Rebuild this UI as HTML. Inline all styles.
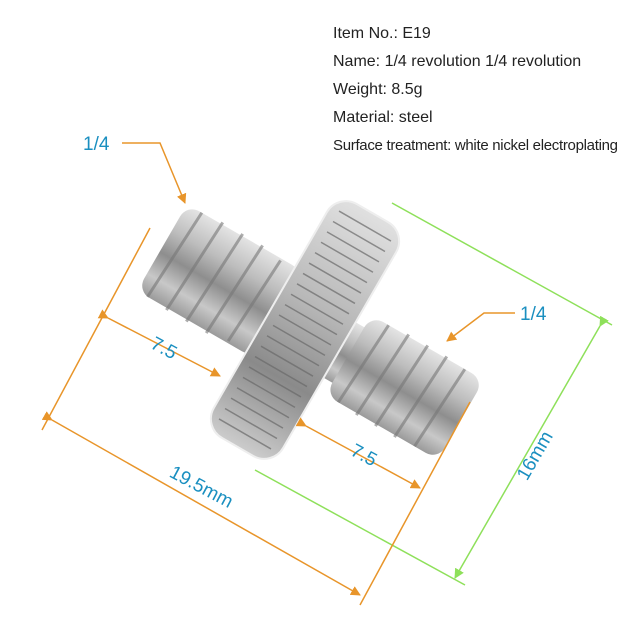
<!DOCTYPE html>
<html><head><style>
html,body{margin:0;padding:0;background:#fff;}
.t{position:absolute;left:333px;font-family:"Liberation Sans",sans-serif;font-size:16px;color:#222;white-space:nowrap;}
</style></head><body>
<div style="position:relative;width:640px;height:640px;overflow:hidden;">
<svg width="640" height="640" style="position:absolute;left:0;top:0">
<defs>
<linearGradient id="m" x1="0" y1="0" x2="0" y2="1">
<stop offset="0" stop-color="#e4e4e4"/><stop offset="0.3" stop-color="#bdbdbd"/><stop offset="0.55" stop-color="#8e8e8e"/><stop offset="0.8" stop-color="#c8c8c8"/><stop offset="1" stop-color="#9a9a9a"/>
</linearGradient>
<linearGradient id="d" x1="0" y1="0" x2="0" y2="1">
<stop offset="0" stop-color="#e0e0e0"/><stop offset="0.4" stop-color="#b8b8b8"/><stop offset="0.7" stop-color="#8a8a8a"/><stop offset="1" stop-color="#cccccc"/>
</linearGradient>
<marker id="ao" markerWidth="10" markerHeight="10" refX="9" refY="5" orient="auto" markerUnits="userSpaceOnUse"><path d="M0,0 L10,5 L0,10 z" fill="#e8952a"/></marker>
<marker id="ag" markerWidth="10" markerHeight="10" refX="9" refY="5" orient="auto" markerUnits="userSpaceOnUse"><path d="M0,0 L10,5 L0,10 z" fill="#8ee05a"/></marker>
</defs>
<g stroke="#8ee05a" stroke-width="1.5" fill="none">
<line x1="392" y1="203" x2="612" y2="325"/>
<line x1="255" y1="470" x2="465" y2="585"/>
<line x1="600" y1="326" x2="455" y2="578" marker-start="url(#ag)" marker-end="url(#ag)"/>
</g>
<g transform="translate(305 330) rotate(30)">
<rect x="-165" y="-50" width="135" height="100" rx="14" fill="url(#m)"/>
<g stroke="#777" stroke-width="3" opacity="0.6">
<line x1="-148" y1="-50" x2="-153" y2="50"/><line x1="-125" y1="-52" x2="-130" y2="52"/><line x1="-102" y1="-52" x2="-107" y2="52"/><line x1="-79" y1="-52" x2="-84" y2="52"/><line x1="-56" y1="-48" x2="-61" y2="48"/>
</g>
<rect x="-40" y="-32" width="110" height="64" fill="url(#m)"/>
<rect x="50" y="-46" width="130" height="92" rx="14" fill="url(#m)"/>
<g stroke="#777" stroke-width="3" opacity="0.6">
<line x1="70" y1="-46" x2="65" y2="46"/><line x1="92" y1="-48" x2="87" y2="48"/><line x1="114" y1="-48" x2="109" y2="48"/><line x1="136" y1="-48" x2="131" y2="48"/><line x1="158" y1="-46" x2="153" y2="46"/>
</g>
<rect x="-40" y="-135" width="80" height="270" rx="22" fill="url(#d)"/>
<rect x="-40" y="-135" width="80" height="270" rx="22" fill="none" stroke="#eee" stroke-width="2"/>
<g stroke="#6a6a6a" stroke-width="1.5" opacity="0.7">
<line x1="-30" y1="-120" x2="30" y2="-120"/><line x1="-30" y1="-108" x2="30" y2="-108"/><line x1="-30" y1="-96" x2="30" y2="-96"/><line x1="-30" y1="-84" x2="30" y2="-84"/><line x1="-30" y1="-72" x2="30" y2="-72"/><line x1="-30" y1="-60" x2="30" y2="-60"/><line x1="-30" y1="-48" x2="30" y2="-48"/><line x1="-30" y1="-36" x2="30" y2="-36"/><line x1="-30" y1="-24" x2="30" y2="-24"/><line x1="-30" y1="-12" x2="30" y2="-12"/><line x1="-30" y1="0" x2="30" y2="0"/><line x1="-30" y1="12" x2="30" y2="12"/><line x1="-30" y1="24" x2="30" y2="24"/><line x1="-30" y1="36" x2="30" y2="36"/><line x1="-30" y1="48" x2="30" y2="48"/><line x1="-30" y1="60" x2="30" y2="60"/><line x1="-30" y1="72" x2="30" y2="72"/><line x1="-30" y1="84" x2="30" y2="84"/><line x1="-30" y1="96" x2="30" y2="96"/><line x1="-30" y1="108" x2="30" y2="108"/><line x1="-30" y1="120" x2="30" y2="120"/>
</g>
</g>
<g stroke="#e8952a" stroke-width="1.5" fill="none">
<line x1="150" y1="228" x2="42" y2="430"/>
<line x1="470" y1="402" x2="360" y2="605"/>
<line x1="52" y1="420" x2="360" y2="595" marker-start="url(#ao)" marker-end="url(#ao)"/>
<line x1="108" y1="318" x2="220" y2="376" marker-start="url(#ao)" marker-end="url(#ao)"/>
<line x1="306" y1="426" x2="420" y2="488" marker-start="url(#ao)" marker-end="url(#ao)"/>
<polyline points="122,143 160,143 185,203" marker-end="url(#ao)"/>
<polyline points="515,313 484,313 447,341" marker-end="url(#ao)"/>
</g>
<g font-family="Liberation Sans,sans-serif" font-size="19" fill="#1a8fc0">
<text x="83" y="150">1/4</text>
<text x="520" y="320">1/4</text>
<text x="150" y="355" transform="rotate(28 165 350)">7.5</text>
<text x="350" y="462" transform="rotate(28 365 457)">7.5</text>
<text x="166" y="495" transform="rotate(28 205 490)">19.5mm</text>
<text x="503" y="470" transform="rotate(-60 525 455)">16mm</text>
</g>
</svg>
<div class="t" style="top:25px">Item No.: E19</div>
<div class="t" style="top:53px">Name: 1/4 revolution 1/4 revolution</div>
<div class="t" style="top:81px">Weight: 8.5g</div>
<div class="t" style="top:109px">Material: steel</div>
<div class="t" style="top:137px;font-size:15px;letter-spacing:-0.3px">Surface treatment: white nickel electroplating</div>
</div>
</body></html>
